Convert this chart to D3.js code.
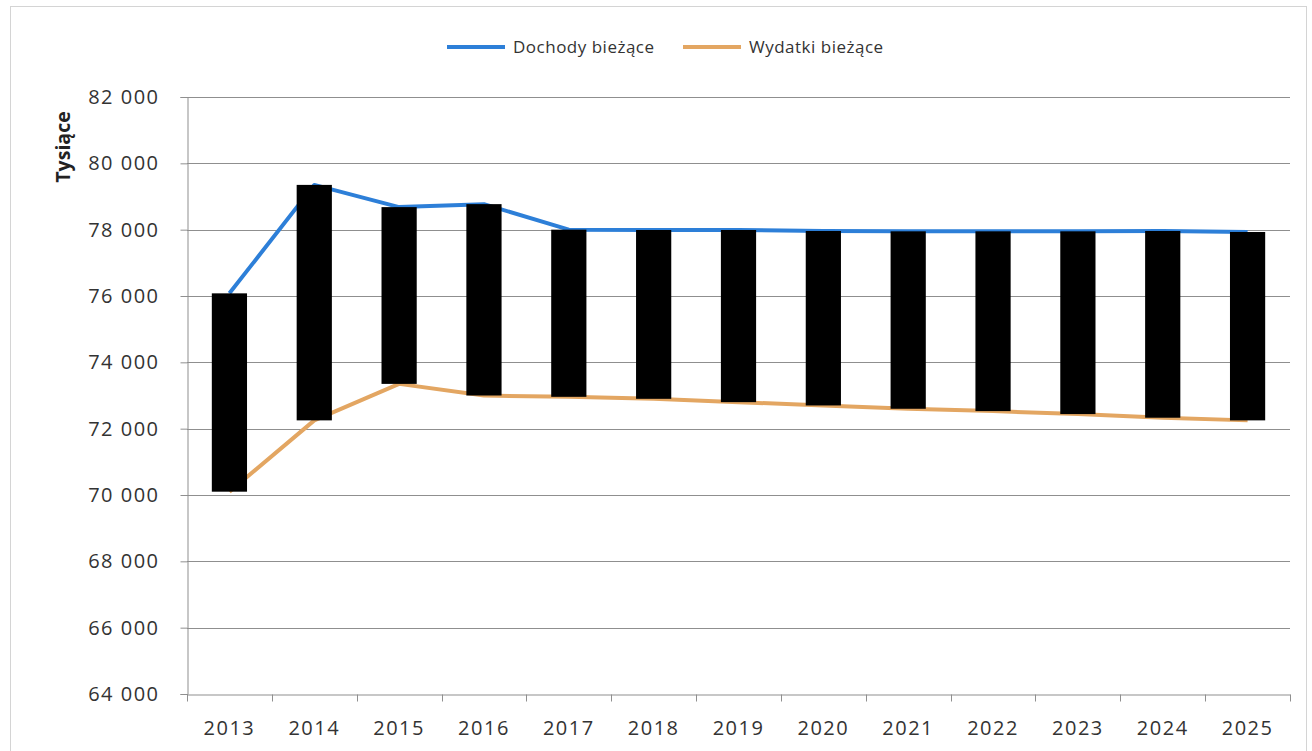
<!DOCTYPE html>
<html>
<head>
<meta charset="utf-8">
<script src="https://cdn.jsdelivr.net/npm/d3@7"></script>
<style>
  html, body { margin: 0; padding: 0; background: #fff; }
  svg { display: block; font-family: 'Open Sans', 'DejaVu Sans', sans-serif; }
</style>
</head>
<body>
<svg id="chart" width="1312" height="751"></svg>
<script>
// Data (thousands).
const years    = ['2013', '2014', '2015', '2016', '2017', '2018', '2019', '2020', '2021', '2022', '2023', '2024', '2025']
const dochody  = [76080, 79350, 78680, 78770, 78000, 77990, 77990, 77960, 77950, 77950, 77950, 77960, 77930]
const wydatki  = [70100, 72250, 73350, 73000, 72960, 72900, 72800, 72700, 72600, 72530, 72440, 72330, 72250]
const yTicks   = [64000, 66000, 68000, 70000, 72000, 74000, 76000, 78000, 80000, 82000]
const seriesNames = ['Dochody bieżące', 'Wydatki bieżące']

const BLUE   = '#2d7fd8'
const ORANGE = '#e3a662'
const GRID   = '#8f8f8f'

const svg = d3.select('#chart')

// Outer chart frame.
svg.append('rect')
  .attr('x', 10.5).attr('y', 6.5)
  .attr('width', 1296).attr('height', 760)
  .attr('fill', 'none')
  .attr('stroke', '#d4d4d4')

const plot = { left: 187, right: 1290, top: 97, bottom: 694 }

const x = d3.scaleBand()
  .domain(years)
  .range([plot.left, plot.right])

const y = d3.scaleLinear()
  .domain([64000, 82000])
  .range([plot.bottom, plot.top])

const fmt = (v) => d3.format(',')(v).replace(/,/g, ' ')

// Gridlines.
svg.append('g').selectAll('line')
  .data(yTicks.filter((v) => v !== 64000)).enter()
  .append('line')
  .attr('x1', plot.left).attr('x2', plot.right)
  .attr('y1', (d) => Math.round(y(d)) + 0.5)
  .attr('y2', (d) => Math.round(y(d)) + 0.5)
  .attr('stroke', GRID)
  .attr('stroke-width', 1)

// Y axis.
const yAxis = svg.append('g')
  .attr('transform', `translate(${plot.left + 0.5},0)`)
  .call(d3.axisLeft(y).tickValues(yTicks).tickFormat(fmt).tickSize(7).tickPadding(21))
yAxis.select('.domain').attr('stroke', GRID)
yAxis.selectAll('.tick line').attr('stroke', GRID)
yAxis.selectAll('.tick text')
  .attr('font-size', 20)
  .attr('letter-spacing', 1.5)
  .attr('fill', '#333')
  .attr('font-family', "'Open Sans', sans-serif")

// X axis: labels centred in categories, ticks at category boundaries.
const xAxis = svg.append('g')
  .attr('transform', `translate(0,${Math.round(plot.bottom) + 0.5})`)
  .call(d3.axisBottom(x).tickSize(0).tickPadding(26))
xAxis.select('.domain').attr('stroke', GRID)
xAxis.selectAll('.tick text')
  .attr('font-size', 20)
  .attr('letter-spacing', 1.5)
  .attr('fill', '#333')
  .attr('font-family', "'Open Sans', sans-serif")
xAxis.selectAll('.boundary')
  .data(years.map((d) => x(d)).concat([x.range()[1]])).enter()
  .append('line')
  .attr('class', 'boundary')
  .attr('x1', (d) => Math.round(d) + 0.5).attr('x2', (d) => Math.round(d) + 0.5)
  .attr('y1', 0).attr('y2', 7)
  .attr('stroke', GRID)

// Y axis title.
svg.append('text')
  .attr('transform', `translate(70,147) rotate(-90)`)
  .attr('text-anchor', 'middle')
  .attr('font-size', 19.5)
  .attr('font-weight', 'bold')
  .attr('fill', '#222')
  .text('Tysiące')

// Lines (drawn under the up/down bars).
const cx = (i) => x(years[i]) + x.bandwidth() / 2
const line = d3.line().x((d, i) => cx(i)).y((d) => y(d))

svg.append('path')
  .datum(wydatki)
  .attr('d', line)
  .attr('fill', 'none')
  .attr('stroke', ORANGE)
  .attr('stroke-width', 4)
  .attr('stroke-linejoin', 'round')

svg.append('path')
  .datum(dochody)
  .attr('d', line)
  .attr('fill', 'none')
  .attr('stroke', BLUE)
  .attr('stroke-width', 4)
  .attr('stroke-linejoin', 'round')

// Up/down bars between the two series.
const barW = x.bandwidth() * 0.415
svg.append('g').selectAll('rect')
  .data(years).enter()
  .append('rect')
  .attr('x', (d, i) => cx(i) - barW / 2)
  .attr('width', barW)
  .attr('y', (d, i) => y(Math.max(dochody[i], wydatki[i])))
  .attr('height', (d, i) => Math.abs(y(dochody[i]) - y(wydatki[i])))
  .attr('fill', '#000')

// Legend.
const legend = svg.append('g')
const legendItems = [
  { name: seriesNames[0], color: BLUE,   x: 447 },
  { name: seriesNames[1], color: ORANGE, x: 683 },
]
legendItems.forEach((item) => {
  legend.append('line')
    .attr('x1', item.x).attr('x2', item.x + 58)
    .attr('y1', 47).attr('y2', 47)
    .attr('stroke', item.color)
    .attr('stroke-width', 4)
  legend.append('text')
    .attr('x', item.x + 66)
    .attr('y', 53)
    .attr('font-size', 17)
    .attr('letter-spacing', 0.5)
    .attr('fill', '#333')
    .text(item.name)
})
</script>
</body>
</html>
